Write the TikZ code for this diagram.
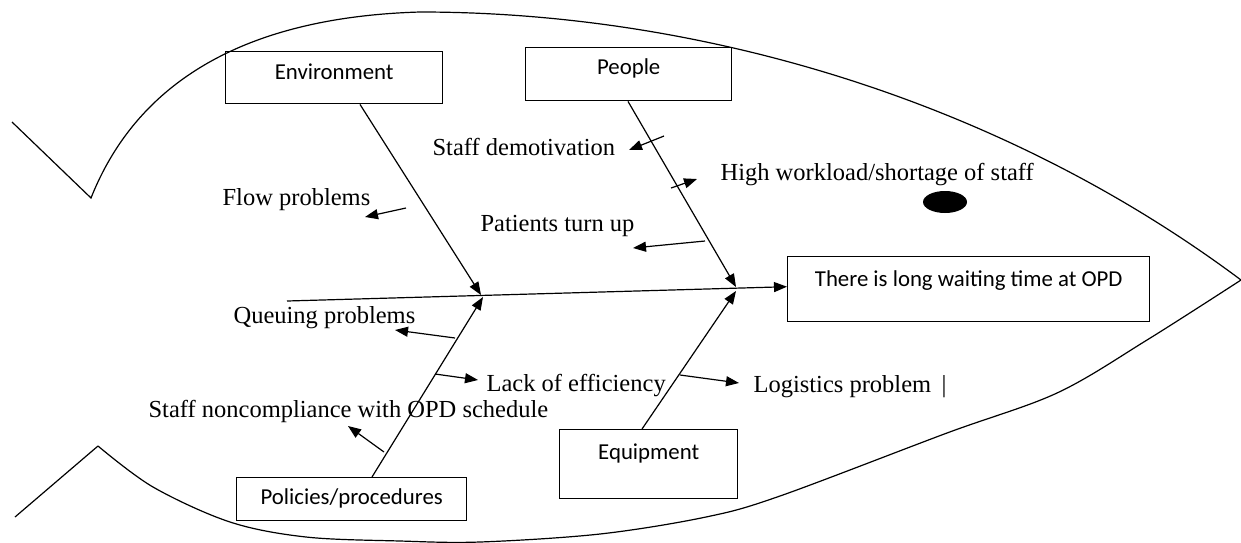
\documentclass[tikz,border=0pt]{standalone}
\usepackage{fontspec}
\setmainfont{Liberation Serif}
\newfontfamily\boxfont{Carlito}
\usetikzlibrary{arrows.meta}
\begin{document}
\begin{tikzpicture}[x=0.5pt,y=-0.5pt,line width=0.6pt,
  arr/.style={-{Triangle[length=6.5pt,width=5pt]}},
  cbox/.style={draw,line width=0.7pt,inner sep=0pt,anchor=north west,
    font=\boxfont\fontsize{11.4pt}{13pt}\selectfont},
  lbl/.style={anchor=base west,inner sep=0pt,
    font=\fontsize{12.25pt}{14pt}\selectfont}]
\useasboundingbox (0,0) rectangle (1241,542);

% fish outline
\draw (12,122) -- (91,198) .. controls (128,105) and (215,18) .. (420,12)
  .. controls (700,12) and (1000,100) .. (1241,280);
\draw (15,517) -- (98,446);
\draw plot[smooth,tension=0.55] coordinates {(98,446) (153,487) (230,522) (306,537) (400,541) (480,542) (600,534) (706,517) (780,496) (947,433) (1057,393) (1147,340) (1241,280)};

% boxes
\node[cbox,minimum width=108.5pt,text height=14pt,text depth=12pt] (env) at (225,51) {Environment};
\node[cbox,minimum width=103pt,text height=13.5pt,text depth=13pt] (ppl) at (525,47) {People};
\node[cbox,minimum width=181pt,text height=15pt,text depth=17.5pt] (eff) at (787,256) {There is long waiting time at OPD};
\node[cbox,minimum width=115pt,text height=13.5pt,text depth=8pt] (pol) at (236,477) {Policies/procedures};
\node[cbox,minimum width=89pt,text height=15pt,text depth=19.5pt] (eqp) at (559,429) {Equipment};

% spine and branches
\coordinate (s0) at (287,301);
\coordinate (j1) at (481,295);
\coordinate (j2) at (483,297);
\coordinate (j3) at (736,287);
\coordinate (j4) at (736,291);
\draw[arr] (s0) -- ([yshift=1.25pt]eff.west);
\draw[arr] ([xshift=67.5pt]env.south west) -- (j1);
\draw[arr] ([xshift=51.5pt]ppl.south west) -- (j3);
\draw[arr] ([xshift=68pt]pol.north west) -- (j2);
\draw[arr] ([xshift=41.5pt]eqp.north west) -- (j4);

% labels
\node[lbl] (flow) at (222,205) {Flow problems};
\node[lbl] (dem) at (432,155) {Staff demotivation};
\node[lbl] (work) at (720,180) {High workload/shortage of staff};
\node[lbl] (turn) at (480,231) {Patients turn up};
\node[lbl] (queue) at (233,323) {Queuing problems};
\node[lbl] (lack) at (486,391) {Lack of efficiency};
\node[lbl] (nonc) at (148,417) {Staff noncompliance with OPD schedule};
\node[lbl] (logi) at (753,392) {Logistics problem\hspace{5.25pt}|};

% cause arrows
\coordinate (a1) at (406,208); \coordinate (b1) at (365,217);
\coordinate (a2) at (664,136); \coordinate (b2) at (629,150);
\coordinate (a3) at (671,188); \coordinate (b3) at (697,179);
\coordinate (a4) at (705,241); \coordinate (b4) at (633,248);
\coordinate (a5) at (455,338); \coordinate (b5) at (395,330);
\coordinate (a6) at (435,374); \coordinate (b6) at (478,380);
\coordinate (a7) at (384,452); \coordinate (b7) at (348,426);
\coordinate (a8) at (680,375); \coordinate (b8) at (739,383);
\foreach \i in {1,...,8} {\draw[arr] (a\i) -- (b\i);}

% dot
\fill (945,202) ellipse [x radius=11pt,y radius=5.5pt];
\end{tikzpicture}
\end{document}
